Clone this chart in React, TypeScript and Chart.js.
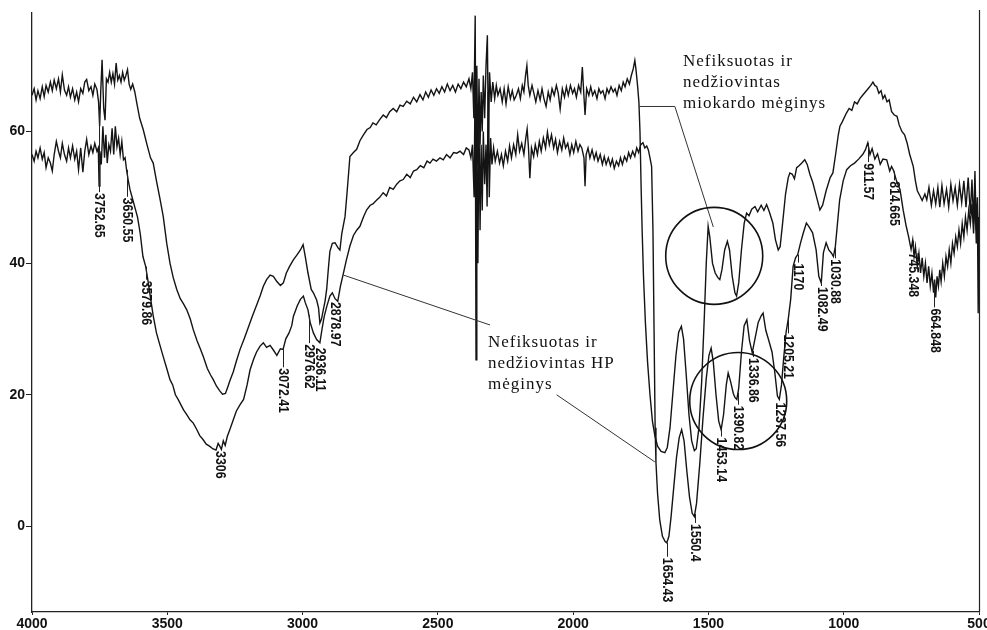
import React, { useEffect, useRef } from "react";
import { Chart, registerables } from "chart.js";

Chart.register(...registerables);

// Wavenumber (cm-1), transmittance (%) — "Nefiksuotas ir nedžiovintas miokardo mėginys"
const miokardoSpectrum: [number, number][] = [
  [4000,65.5],[3992,66.5],[3985,64.8],[3978,66.2],[3970,65.0],[3962,66.8],[3955,65.3],[3948,67.0],[3940,66.0],[3932,67.5],
  [3925,66.2],[3918,67.8],[3910,66.5],[3902,68.0],[3895,66.0],[3888,68.6],[3880,66.3],[3872,65.5],[3865,66.8],[3858,65.2],
  [3850,66.5],[3842,64.8],[3835,66.0],[3828,64.5],[3820,66.5],[3812,65.8],[3805,67.5],[3798,67.9],[3790,66.2],[3782,66.8],
  [3775,65.5],[3768,67.2],[3760,66.4],[3754,64.5],[3750,60.8],[3746,66],[3741,70.9],[3735,63.5],[3730,61.7],[3725,68],
  [3719,67.5],[3713,69],[3707,67.5],[3701,68.8],[3695,67.2],[3689,70.4],[3683,67.8],[3677,68.5],[3671,67.5],[3665,69],
  [3659,67.8],[3653,68.5],[3647,69.4],[3641,67.2],[3635,66.4],[3628,67.2],[3620,66],[3613,64.4],[3602,62],[3589,60.3],
  [3575,58],[3562,56],[3552,55.2],[3540,52.5],[3528,50],[3515,47.1],[3502,43],[3490,40],[3478,37.8],[3465,36],
  [3452,34.6],[3440,33.8],[3428,32.9],[3415,31.5],[3404,29.9],[3390,28.2],[3378,27],[3367,25.8],[3352,24],[3340,23],
  [3330,22.3],[3318,21.3],[3306,20.6],[3296,20.1],[3285,20.2],[3278,21],[3268,22.2],[3256,23.5],[3244,25.2],[3231,26.9],
  [3215,28.6],[3200,30.3],[3185,32],[3170,33.6],[3157,35],[3145,36.5],[3133,37.5],[3120,38.2],[3108,38],[3095,37.2],
  [3082,36.6],[3071,37],[3060,38.5],[3048,39.5],[3034,40.5],[3020,41.3],[3008,42],[2998,42.8],[2990,41],[2980,38.5],
  [2968,36],[2960,35.5],[2948,34.4],[2941,33.2],[2936,30.9],[2930,31.5],[2924,32.8],[2917,34.2],[2911,36],[2905,39],
  [2899,41.8],[2890,43],[2880,43.1],[2870,42.4],[2862,42],[2855,44.5],[2843,47.1],[2835,51],[2825,56.2],[2812,56.8],
  [2800,57.3],[2788,58.6],[2775,59.5],[2762,60.3],[2750,60.6],[2740,61.3],[2728,61],[2715,61.8],[2702,62.5],[2690,62.1],
  [2678,63],[2665,63.5],[2652,63],[2640,64],[2628,63.8],[2615,64.6],[2602,64.2],[2590,65.2],[2578,64.5],[2566,65.6],
  [2555,64.8],[2545,66],[2535,65.2],[2525,66.3],[2515,65.5],[2505,66.5],[2495,65.8],[2485,66.8],[2475,66],[2465,67.2],
  [2455,66.2],[2445,67],[2435,66],[2425,67.2],[2415,66.5],[2405,67.5],[2395,66.8],[2385,68],[2378,66.5],[2372,69],
  [2367,62],[2362,77.6],[2359,45],[2356,70],[2352,55],[2348,68],[2344,58],[2340,66],[2336,60],[2332,68.5],
  [2327,62],[2322,70],[2317,74.6],[2313,57],[2309,69],[2303,64.5],[2297,67.5],[2290,65],[2284,67],[2278,65.5],
  [2270,66.5],[2262,64.5],[2255,66.5],[2248,64.2],[2240,66.8],[2232,65],[2225,66.2],[2218,64.8],[2210,65.5],[2202,66.5],
  [2195,65],[2188,67],[2182,66],[2176,68.5],[2171,70],[2166,67],[2160,65.5],[2152,67],[2145,65.8],[2138,64.5],
  [2130,66.2],[2122,64.8],[2115,66.5],[2108,65],[2100,63.8],[2092,66],[2085,64.8],[2078,66.5],[2070,65.5],[2062,67],
  [2055,65.8],[2048,63.4],[2040,66.5],[2032,65.2],[2025,66.8],[2018,65.5],[2010,67],[2002,65.8],[1995,66.5],[1988,65.2],
  [1980,67],[1972,66],[1966,69.8],[1961,66],[1956,62.5],[1950,66.5],[1942,65.5],[1935,66.8],[1928,65.5],[1920,66.2],
  [1912,65],[1905,66.5],[1898,65.8],[1890,66.2],[1882,65],[1875,66.5],[1868,65.8],[1860,66.8],[1852,66],[1845,66.5],
  [1838,65.5],[1830,67],[1822,66.2],[1815,67.5],[1808,66.8],[1800,68],[1792,67.2],[1785,68.5],[1778,69.5],[1772,70.8],
  [1768,69.5],[1762,67],[1757,64.5],[1753,60],[1749,52],[1745,45],[1740,38],[1733,31],[1725,25],[1716,20],
  [1707,16],[1698,13.8],[1688,12.2],[1675,11.4],[1661,11.2],[1652,12],[1642,15],[1632,20],[1620,26],[1610,29.5],
  [1600,30.4],[1592,28.5],[1582,23],[1572,17],[1562,13],[1552,11.5],[1545,11.8],[1535,15],[1525,22],[1515,32],
  [1508,40],[1501,45.6],[1495,44],[1485,40],[1475,38.5],[1465,37.8],[1458,37.5],[1450,39],[1440,42],[1430,43.3],
  [1422,42],[1412,38],[1402,35.5],[1396,35],[1388,37],[1378,42],[1368,46],[1359,47.6],[1350,47.2],[1340,48.2],
  [1328,48.6],[1318,47.8],[1305,48.8],[1295,48],[1285,48.9],[1275,47.8],[1262,46.1],[1252,43.5],[1242,42],[1235,42.5],
  [1226,46],[1215,50.5],[1205,53],[1199,53.7],[1190,53.5],[1182,52.8],[1174,54.5],[1165,54.8],[1155,55.2],[1144,55.7],
  [1135,55],[1125,53.5],[1114,52.2],[1100,50],[1088,48.1],[1078,48.8],[1065,51],[1050,53],[1040,53.7],[1030,56.5],
  [1020,59.5],[1014,60.8],[1005,61.5],[990,62.8],[980,63.5],[970,63.2],[960,64.5],[950,64.2],[940,65],[930,65.5],
  [920,66],[910,66.5],[900,67],[892,67.5],[885,67],[878,66.8],[870,65.8],[862,66.2],[855,65],[848,65.5],
  [840,64.5],[832,64.8],[823,63],[813,62.5],[803,62.3],[795,61],[785,60],[775,59.5],[766,58.3],[756,56.5],
  [743,54.7],[735,52.5],[728,51],[718,50.2],[710,49.5],[700,50.5],[693,49.6],[685,51.5],[676,48.8],[668,51],
  [660,49],[652,51.5],[645,48.5],[637,51.8],[629,49],[620,51.2],[612,48.5],[604,52],[596,49.5],[588,51.5],
  [580,48.8],[572,52],[564,49.2],[556,52.5],[548,48.5],[540,53],[532,47.5],[526,52.7],[520,46],[515,54],
  [510,45],[506,50],[503,44],[500,47],
];

// Wavenumber (cm-1), transmittance (%) — "Nefiksuotas ir nedžiovintas HP mėginys"
const hpSpectrum: [number, number][] = [
  [4000,56.5],[3992,55.5],[3985,57],[3978,56],[3970,57.5],[3962,55.8],[3955,56.8],[3948,54.5],[3940,56],[3932,55.2],
  [3925,54],[3918,56.5],[3910,58.5],[3902,57],[3895,56],[3888,58.2],[3880,56.5],[3872,55.5],[3865,57.5],[3858,56],
  [3850,57.8],[3842,55.8],[3835,57],[3828,54.2],[3820,57.5],[3812,53.8],[3805,57],[3798,58.8],[3790,56.5],[3782,57.8],
  [3775,56.8],[3768,58.2],[3760,57],[3755,57.5],[3752,51.7],[3749,57],[3744,55],[3738,60.8],[3732,56],[3727,59.5],
  [3722,55.2],[3716,58],[3710,57],[3704,60.5],[3698,56.5],[3692,60.8],[3686,57.7],[3680,59],[3674,56.5],[3668,58.5],
  [3662,55.7],[3656,56],[3650,54],[3644,52.5],[3638,51.2],[3630,50],[3620,48.5],[3610,47],[3600,44.5],[3590,41],
  [3580,39.5],[3572,37.5],[3563,35],[3552,32],[3540,29.4],[3527,27.5],[3515,25.8],[3502,24],[3490,22.3],[3480,21.5],
  [3470,20],[3460,19.3],[3450,18.5],[3440,17.7],[3428,17],[3416,16.2],[3404,15.7],[3392,14.8],[3380,13.8],[3368,13.2],
  [3356,12.5],[3344,12.2],[3332,11.8],[3320,11.6],[3312,12.6],[3306,12.2],[3300,11.7],[3293,13],[3286,12.3],[3278,13.7],
  [3268,14.8],[3256,16.2],[3245,17.5],[3231,18.5],[3218,19.3],[3205,21.5],[3194,23.8],[3180,25.5],[3170,26.5],[3157,27.4],
  [3145,27.9],[3133,27.2],[3120,27.5],[3108,26.8],[3095,26],[3082,27],[3072,26.9],[3062,28.5],[3050,29.4],[3040,30.5],
  [3034,31.9],[3020,33.5],[3008,34.5],[2997,35],[2990,34],[2980,32.9],[2972,31],[2960,29.4],[2948,28.4],[2936,27.9],
  [2928,30],[2920,31.9],[2910,33.5],[2899,35],[2890,35.5],[2880,34.6],[2870,34.2],[2860,36.5],[2850,38.3],[2838,40.5],
  [2825,42.6],[2812,44.2],[2800,45],[2788,45.6],[2775,47],[2763,48.1],[2750,48.8],[2740,49],[2726,49.6],[2715,50],
  [2702,50.7],[2690,50.2],[2678,51.5],[2665,51.2],[2652,52],[2640,52.5],[2628,52.7],[2615,53.5],[2602,53],[2590,54],
  [2578,54.2],[2565,54.8],[2552,54.5],[2540,55.5],[2529,55.2],[2518,55.8],[2505,55.5],[2492,56],[2480,55.7],[2468,56.5],
  [2455,56],[2442,56.8],[2430,56.7],[2418,57],[2405,56.5],[2395,57.5],[2385,57.2],[2378,56],[2372,58],[2366,50],
  [2362,70],[2359,25.3],[2356,60],[2352,40],[2348,62],[2344,45],[2340,58],[2336,48],[2332,60],[2327,52],
  [2322,58],[2318,48.6],[2314,66],[2310,50],[2305,59],[2300,55],[2294,57.5],[2288,55.5],[2280,57],[2272,55.2],
  [2265,56.5],[2258,54.8],[2250,57],[2242,55.5],[2235,57.8],[2228,56],[2220,58],[2212,56.5],[2205,59.5],[2198,57],
  [2190,58.2],[2182,56.5],[2175,59],[2170,60.4],[2165,57.5],[2160,52.9],[2154,57.5],[2146,56.2],[2140,58],[2132,56.5],
  [2125,58.5],[2118,57],[2110,59],[2102,57.5],[2095,59.9],[2088,58],[2080,59.5],[2072,57.5],[2065,58.8],[2058,56.8],
  [2050,58.5],[2042,57.2],[2035,59],[2028,57.5],[2020,58.2],[2012,56.5],[2005,58],[1998,56.8],[1990,58.5],[1982,57],
  [1975,58],[1968,57.5],[1960,56],[1956,51.7],[1952,56.5],[1945,57.5],[1938,56],[1930,57.2],[1922,55.8],[1915,56.8],
  [1908,55.5],[1900,56.5],[1892,55],[1885,56.2],[1878,55],[1870,56],[1862,54.8],[1855,55.8],[1848,54.4],[1840,55.5],
  [1832,54.8],[1825,56],[1818,55],[1810,56.2],[1802,55.5],[1795,56.8],[1788,56],[1780,57],[1772,56.2],[1765,57.5],
  [1758,56.8],[1750,58],[1742,58.3],[1735,57.5],[1728,57.8],[1722,57.2],[1716,56],[1710,54.7],[1705,45],[1701,30],
  [1697,15],[1694,9.8],[1688,5],[1680,1],[1670,-1.5],[1660,-2.3],[1654,-2.5],[1646,-1.5],[1638,1.5],[1628,6],
  [1618,10.5],[1608,13.5],[1599,14.7],[1590,13],[1580,8.5],[1570,4.5],[1560,2],[1552,1.5],[1544,3.5],[1532,9.5],
  [1520,16.5],[1508,22.5],[1498,26],[1490,27.1],[1482,25],[1472,20],[1462,16],[1453,14.7],[1444,17],[1434,21.5],
  [1427,23.3],[1418,22],[1408,20.2],[1402,19.6],[1395,19.3],[1388,21],[1378,26.5],[1368,30.5],[1358,31.4],[1348,28.2],
  [1338,26.4],[1328,28.5],[1316,31],[1305,32],[1298,32.4],[1288,29.8],[1278,28.4],[1265,26.5],[1255,23.5],[1245,19.8],
  [1238,19.3],[1230,21.5],[1222,25.5],[1213,29.5],[1205,31.5],[1196,34.5],[1187,39.5],[1178,40.8],[1170,41.3],[1160,43],
  [1150,44.5],[1138,46.1],[1128,45.5],[1115,44.6],[1102,42],[1092,38],[1083,37],[1075,41.6],[1065,43.1],[1055,42],
  [1045,41.5],[1038,41],[1031,42.5],[1022,46.5],[1015,49.6],[1002,52.5],[989,54.2],[975,54.8],[960,55.2],[945,55.8],
  [930,56.5],[920,57.2],[911,58.3],[903,56.5],[895,57.4],[885,55.8],[875,56.6],[865,55],[855,55.8],[841,55.7],
  [830,54],[823,54.7],[815,54],[805,52.5],[792,51.2],[780,48],[769,45.6],[760,44],[751,42.1],[745,43.5],
  [740,41],[735,42.5],[728,39.5],[722,41.5],[716,38.5],[710,40.8],[704,38],[698,40],[692,37],[686,39.5],
  [680,36.5],[674,38.5],[668,35.5],[664,37.5],[660,34.8],[655,38],[650,36.5],[645,39],[640,37.2],[634,40],
  [628,38],[622,41],[616,39.5],[610,42],[604,40],[598,43],[592,41.5],[586,44],[580,42.5],[574,45],
  [568,43],[562,46],[556,44],[550,47],[544,45],[538,48],[532,46],[526,49],[520,44.5],[515,50],
  [510,43],[506,48],[503,32.4],[500,45],
];

const xTickValues = [4000, 3500, 3000, 2500, 2000, 1500, 1000, 500];
const yTickValues = [0, 20, 40, 60];

// Peak labels (text = wavenumber), series they hang from, and drop below curve in px
const peakLabels = [
  { text: "3752.65", series: 0, gap: 82 },
  { text: "3650.55", series: 1, gap: 27 },
  { text: "3579.86", series: 1, gap: 13 },
  { text: "3306", series: 1, gap: 4 },
  { text: "3072.41", series: 1, gap: 18 },
  { text: "2976.62", series: 1, gap: 28 },
  { text: "2936.11", series: 1, gap: 4 },
  { text: "2878.97", series: 1, gap: 2 },
  { text: "1654.43", series: 1, gap: 14 },
  { text: "1550.4", series: 1, gap: 9 },
  { text: "1453.14", series: 1, gap: 7 },
  { text: "1390.82", series: 1, gap: 12 },
  { text: "1336.86", series: 1, gap: 6 },
  { text: "1237.56", series: 1, gap: 3 },
  { text: "1205.21", series: 1, gap: 14 },
  { text: "1170", series: 1, gap: 8 },
  { text: "1082.49", series: 1, gap: 5 },
  { text: "1030.88", series: 1, gap: 12 },
  { text: "911.57", series: 1, gap: 19 },
  { text: "814.665", series: 1, gap: 9 },
  { text: "745.348", series: 1, gap: 11 },
  { text: "664.848", series: 1, gap: 25 },
];

const noteMiokardo = ["Nefiksuotas ir", "nedžiovintas", "miokardo mėginys"];
const noteHP = ["Nefiksuotas ir", "nedžiovintas HP", "mėginys"];

// annotation anchors in data units (wavenumber, %)
const noteMiokardoAt = [1594, 70.6];
const noteHPAt = [2315, 27.9];
const leaderMiokardo = [[1755, 63.8], [1624, 63.8], [1482, 45.5]];
const leaderHP1 = [[2850, 38.2], [2307, 30.6]];
const leaderHP2 = [[2061, 20.0], [1698, 9.8]];
const circles = [[1478.6, 41.1], [1389.9, 19.05]];

const series = [miokardoSpectrum, hpSpectrum];

function valueAt(data: [number, number][], wn: number): number {
  for (let i = 0; i < data.length - 1; i++) {
    const [x0, y0] = data[i];
    const [x1, y1] = data[i + 1];
    if (wn <= x0 && wn >= x1) {
      const t = x0 === x1 ? 0 : (x0 - wn) / (x0 - x1);
      return y0 + (y1 - y0) * t;
    }
  }
  return data[data.length - 1][1];
}

const overlayPlugin = {
  id: "overlay",
  afterDatasetsDraw(chart: any) {
    const { ctx, chartArea } = chart;
    const xs = chart.scales.x;
    const ys = chart.scales.y;
    const px = (wn: number) => xs.getPixelForValue(wn);
    const py = (v: number) => ys.getPixelForValue(v);
    ctx.save();

    // right frame line
    ctx.strokeStyle = "#222";
    ctx.lineWidth = 1.2;
    ctx.beginPath();
    ctx.moveTo(chartArea.right + 0.5, chartArea.top - 3);
    ctx.lineTo(chartArea.right + 0.5, chartArea.bottom);
    ctx.stroke();

    // peak labels
    ctx.fillStyle = "#111";
    ctx.strokeStyle = "#222";
    ctx.lineWidth = 1;
    ctx.font = 'bold 14px "Liberation Sans", Arial, sans-serif';
    for (const lab of peakLabels) {
      const wn = parseFloat(lab.text);
      const x = px(wn);
      const yc = py(valueAt(series[lab.series], wn));
      const top = yc + lab.gap;
      if (lab.gap > 4) {
        ctx.beginPath();
        ctx.moveTo(Math.round(x) + 0.5, yc);
        ctx.lineTo(Math.round(x) + 0.5, top);
        ctx.stroke();
      }
      ctx.save();
      ctx.translate(x, top + 1);
      ctx.rotate(Math.PI / 2);
      ctx.scale(0.88, 1);
      ctx.textAlign = "left";
      ctx.textBaseline = "middle";
      ctx.fillText(lab.text, 0, 0);
      ctx.restore();
    }

    // leader lines
    ctx.strokeStyle = "#333";
    ctx.lineWidth = 1;
    for (const path of [leaderMiokardo, leaderHP1, leaderHP2]) {
      ctx.beginPath();
      path.forEach(([wn, v], i) => {
        if (i === 0) ctx.moveTo(px(wn), py(v));
        else ctx.lineTo(px(wn), py(v));
      });
      ctx.stroke();
    }

    // circles
    ctx.strokeStyle = "#111";
    ctx.lineWidth = 1.6;
    for (const [wn, v] of circles) {
      ctx.beginPath();
      ctx.arc(px(wn), py(v), 48.5, 0, Math.PI * 2);
      ctx.stroke();
    }

    // notes
    ctx.fillStyle = "#111";
    ctx.font = '17px "Liberation Serif", "Times New Roman", serif';
    (ctx as any).letterSpacing = "1px";
    ctx.textAlign = "left";
    ctx.textBaseline = "middle";
    const drawNote = (lines: string[], at: number[]) => {
      const x = px(at[0]);
      const y = py(at[1]);
      lines.forEach((t, i) => ctx.fillText(t, x, y + i * 21));
    };
    drawNote(noteMiokardo, noteMiokardoAt);
    drawNote(noteHP, noteHPAt);
    ctx.restore();
  },
};

export default function App() {
  const ref = useRef<HTMLCanvasElement>(null);
  useEffect(() => {
    const canvas = ref.current;
    if (!canvas) return;
    const tickFont = { family: '"Liberation Sans", Arial, sans-serif', size: 14, weight: "bold" as const };
    const chart = new Chart(canvas, {
      type: "line",
      data: {
        datasets: [
          {
            label: "Nefiksuotas ir nedžiovintas miokardo mėginys",
            data: miokardoSpectrum.map(([x, y]) => ({ x, y })),
            borderColor: "#141414",
            borderWidth: 1.4,
            pointRadius: 0,
            tension: 0,
            fill: false,
          },
          {
            label: "Nefiksuotas ir nedžiovintas HP mėginys",
            data: hpSpectrum.map(([x, y]) => ({ x, y })),
            borderColor: "#141414",
            borderWidth: 1.4,
            pointRadius: 0,
            tension: 0,
            fill: false,
          },
        ],
      },
      options: {
        animation: false,
        responsive: false,
        devicePixelRatio: 1,
        events: [],
        layout: { padding: { top: 13, right: 8, left: 0, bottom: 0 } },
        plugins: { legend: { display: false }, tooltip: { enabled: false } },
        scales: {
          x: {
            type: "linear",
            reverse: true,
            min: 500,
            max: 4000,
            afterBuildTicks: (s: any) => {
              s.ticks = xTickValues.map((value) => ({ value }));
            },
            afterFit: (s: any) => {
              s.height = 18;
              s.paddingLeft = 0;
              s.paddingRight = 0;
            },
            ticks: {
              font: tickFont,
              color: "#111",
              maxRotation: 0,
              autoSkip: false,
              padding: 1,
              callback: (v: any) => String(v),
            },
            grid: { drawOnChartArea: false, drawTicks: true, tickLength: 3, color: "#222" },
            border: { display: true, color: "#222", width: 1.3 },
          },
          y: {
            type: "linear",
            min: -13,
            max: 78,
            afterBuildTicks: (s: any) => {
              s.ticks = yTickValues.map((value) => ({ value }));
            },
            afterFit: (s: any) => {
              s.width = 32;
              s.paddingTop = 0;
              s.paddingBottom = 0;
            },
            ticks: {
              font: tickFont,
              color: "#111",
              padding: 1,
              callback: (v: any) => String(v),
            },
            grid: { drawOnChartArea: false, drawTicks: true, tickLength: 6, color: "#222" },
            border: { display: true, color: "#222", width: 1.3 },
          },
        },
      },
      plugins: [overlayPlugin],
    } as any);
    return () => chart.destroy();
  }, []);
  return (
    <div style={{ position: "fixed", left: 0, top: 0, width: 987, height: 630, background: "#fff" }}>
      <canvas ref={ref} width={987} height={630} style={{ display: "block", width: 987, height: 630 }} />
    </div>
  );
}
